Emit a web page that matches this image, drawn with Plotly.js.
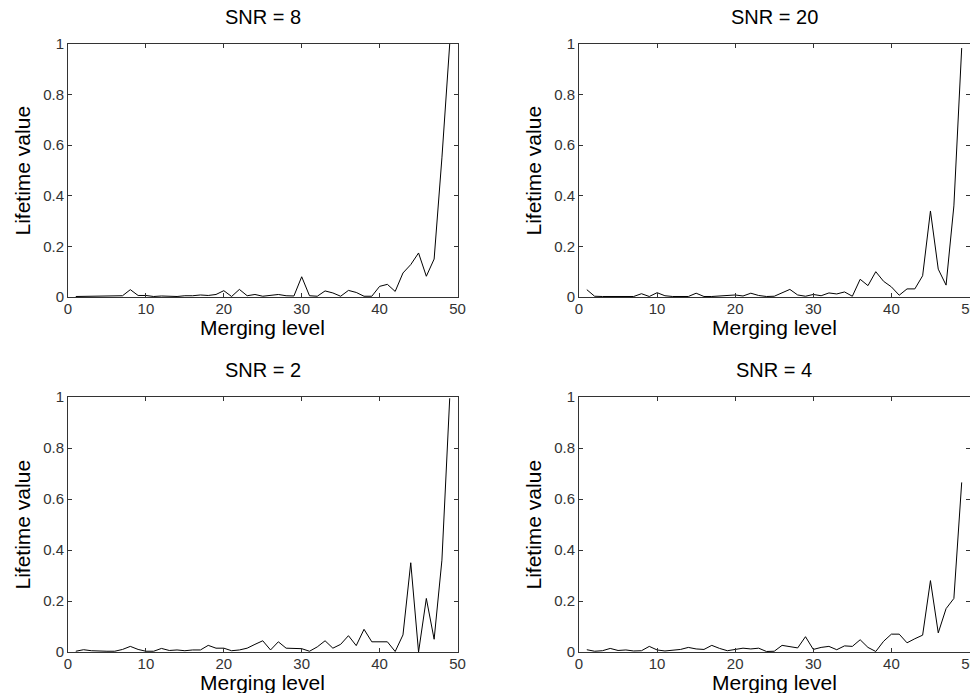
<!DOCTYPE html>
<html>
<head>
<meta charset="utf-8">
<script src="https://cdn.plot.ly/plotly-3.0.1.min.js"></script>
<style>html,body{margin:0;padding:0;background:#fff;}#chart{width:970px;height:693px;}</style>
</head>
<body>
<div id="chart"></div>
<script>
// Merging levels 1..49
const mergingLevel = [1,2,3,4,5,6,7,8,9,10,11,12,13,14,15,16,17,18,19,20,21,22,23,24,25,26,27,28,29,30,31,32,33,34,35,36,37,38,39,40,41,42,43,44,45,46,47,48,49];

const snr8 = [0.002,0.002,0.002,0.002,0.002,0.004,0.005,0.029,0.006,0.006,
              0.002,0.004,0.002,0.002,0.005,0.005,0.008,0.006,0.010,0.025,
              0.002,0.030,0.005,0.010,0.003,0.007,0.010,0.005,0.004,0.080,
              0.005,0.003,0.024,0.016,0.003,0.026,0.018,0.003,0.003,0.042,
              0.050,0.022,0.095,0.128,0.174,0.082,0.150,0.550,1.000];

const snr20 = [0.029,0.003,0.002,0.002,0.002,0.002,0.002,0.013,0.002,0.017,
               0.005,0.002,0.002,0.002,0.015,0.002,0.002,0.005,0.005,0.008,
               0.004,0.015,0.006,0.002,0.003,0.015,0.030,0.008,0.003,0.010,
               0.005,0.016,0.012,0.020,0.003,0.070,0.045,0.100,0.062,0.040,
               0.007,0.032,0.032,0.084,0.340,0.110,0.047,0.360,0.984];

const snr2 = [0.003,0.009,0.005,0.003,0.003,0.003,0.010,0.022,0.010,0.003,
              0.003,0.014,0.006,0.008,0.005,0.008,0.008,0.026,0.015,0.015,
              0.005,0.008,0.015,0.030,0.044,0.008,0.040,0.015,0.015,0.013,
              0.003,0.020,0.044,0.015,0.030,0.064,0.025,0.089,0.040,0.040,
              0.040,0.002,0.067,0.350,0.000,0.210,0.050,0.360,0.995];

const snr4 = [0.009,0.003,0.005,0.014,0.006,0.008,0.004,0.005,0.022,0.008,
              0.004,0.007,0.010,0.018,0.012,0.010,0.026,0.014,0.005,0.010,
              0.015,0.012,0.015,0.002,0.003,0.026,0.020,0.016,0.060,0.010,
              0.018,0.022,0.009,0.024,0.022,0.048,0.018,0.002,0.042,0.070,
              0.070,0.036,0.052,0.066,0.280,0.075,0.170,0.210,0.665];

const panelTitles = ['SNR = 8', 'SNR = 20', 'SNR = 2', 'SNR = 4'];
const xTickVals = [0,10,20,30,40,50];
const yTickVals = [0,0.2,0.4,0.6,0.8,1];
const yTickText = ['0','0.2','0.4','0.6','0.8','1'];
const xLabel = 'Merging level';
const yLabel = 'Lifetime value';

const W = 970, H = 693;
const FONT = 'Liberation Sans, Arial, Helvetica, sans-serif';
const px = p => p / W;
const py = p => 1 - p / H;

// panel pixel boxes: [left, right, top, bottom]
const boxes = [
  [68, 457.5, 44, 297],
  [579, 969.5, 44, 297],
  [68, 457.5, 397, 652],
  [579, 969.5, 397, 652]
];
const series = [snr8, snr20, snr2, snr4];

const traces = series.map((s, i) => ({
  x: mergingLevel, y: s, type: 'scatter', mode: 'lines',
  line: {color: '#000', width: 1},
  xaxis: 'x' + (i ? i + 1 : ''), yaxis: 'y' + (i ? i + 1 : ''),
  hoverinfo: 'skip', showlegend: false
}));

function axisBase() {
  return {
    ticks: 'inside', ticklen: 4, tickcolor: '#333', tickwidth: 1,
    showline: true, linecolor: '#333', linewidth: 1, mirror: 'ticks',
    showgrid: false, zeroline: false, fixedrange: true,
    ticklabeloverflow: 'allow',
    tickfont: {family: FONT, size: 15, color: '#333'}
  };
}

const layout = {
  width: W, height: H,
  margin: {l: 0, r: 0, t: 0, b: 0},
  paper_bgcolor: '#fff', plot_bgcolor: '#fff',
  showlegend: false,
  annotations: []
};

boxes.forEach((b, i) => {
  const k = i ? i + 1 : '';
  layout['xaxis' + k] = Object.assign(axisBase(), {
    domain: [px(b[0]), px(b[1])], range: [0, 50],
    tickvals: xTickVals, anchor: 'y' + k, ticklabelstandoff: -2
  });
  layout['yaxis' + k] = Object.assign(axisBase(), {
    domain: [py(b[3]), py(b[2])], range: [0, 1],
    tickvals: yTickVals, ticktext: yTickText, anchor: 'x' + k
  });
  const cx = (b[0] + b[1]) / 2, cy = (b[2] + b[3]) / 2;
  layout.annotations.push({
    text: panelTitles[i], xref: 'paper', yref: 'paper',
    x: px(cx), y: py(b[2] - 27), xanchor: 'center', yanchor: 'middle',
    showarrow: false, font: {family: FONT, size: 20, color: '#000'}
  });
  layout.annotations.push({
    text: xLabel, xref: 'paper', yref: 'paper',
    x: px(cx), y: py(b[3] + 30), xanchor: 'center', yanchor: 'middle',
    showarrow: false, font: {family: FONT, size: 21, color: '#000'}
  });
  layout.annotations.push({
    text: yLabel, xref: 'paper', yref: 'paper', textangle: -90,
    x: px(b[0] - 46), y: py(cy), xanchor: 'center', yanchor: 'middle',
    showarrow: false, font: {family: FONT, size: 21, color: '#000'}
  });
});

Plotly.newPlot('chart', traces, layout, {staticPlot: true, displayModeBar: false});
</script>
</body>
</html>
